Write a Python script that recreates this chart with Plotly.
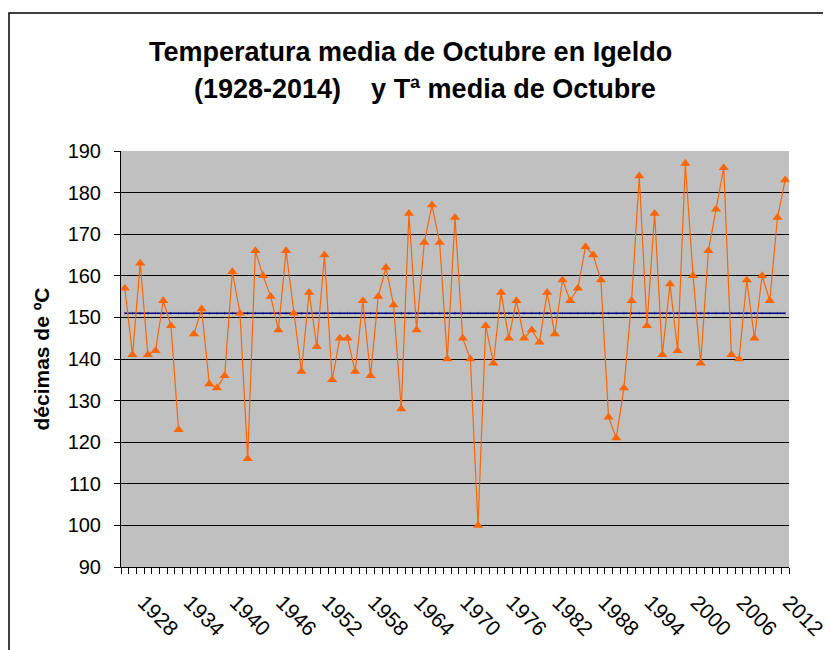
import plotly.graph_objects as go

# ---- data (décimas de ºC), October mean temperature, Igeldo ----
years = list(range(1928, 2015))
temps = [
    157, 141, 163, 141, 142, 154, 148, 123, None, 146,   # 1928-1937
    152, 134, 133, 136, 161, 151, 116, 166, 160, 155,   # 1938-1947
    147, 166, 151, 137, 156, 143, 165, 135, 145, 145,   # 1948-1957
    137, 154, 136, 155, 162, 153, 128, 175, 147, 168,   # 1958-1967
    177, 168, 140, 174, 145, 140, 100, 148, 139, 156,   # 1968-1977
    145, 154, 145, 147, 144, 156, 146, 159, 154, 157,   # 1978-1987
    167, 165, 159, 126, 121, 133, 154, 184, 148, 175,   # 1988-1997
    141, 158, 142, 187, 160, 139, 166, 176, 186, 141,   # 1998-2007
    140, 159, 145, 160, 154, 174, 183,                  # 2008-2014
]
media_value = 151
media = [media_value for _ in years]
tick_years = list(range(1928, 2013, 6))
tick_labels = [str(y) for y in tick_years]

title_line1 = "Temperatura media de Octubre en Igeldo"
title_line2 = "(1928-2014)\u00a0\u00a0\u00a0 y Tª media de Octubre"
y_title = "décimas de ºC"

FONT = "Liberation Sans, Arial, sans-serif"

# plot area on the page: x 121..789, y 151..567 (page has 8px body margin)
PL, PR, PT, PB = 121, 789, 151, 567
def px(x):
    return (x - PL) / (PR - PL)
def py(y):
    return (PB - y) / (PB - PT)

fig = go.Figure()
fig.add_trace(go.Scatter(
    x=years, y=media, mode="lines+markers",
    line=dict(color="#000080", width=1.6),
    marker=dict(symbol="line-ns-open", size=2, color="#000080", line=dict(width=0.6, color="#000080")),
    showlegend=False, hoverinfo="skip",
))
fig.add_trace(go.Scatter(
    x=years, y=temps, mode="lines+markers",
    line=dict(color="#FF6600", width=1.2),
    marker=dict(symbol="triangle-up", size=9, color="#FF6600"),
    connectgaps=False, showlegend=False,
))

fig.update_layout(
    width=823, height=642,
    margin=dict(l=113, r=42, t=143, b=83),
    paper_bgcolor="white",
    plot_bgcolor="#C0C0C0",
    font=dict(family=FONT, color="black"),
    annotations=[
        dict(text="<b>" + title_line1 + "</b>", xref="paper", yref="paper",
             x=px(410), y=py(52), xanchor="center", yanchor="middle", showarrow=False,
             font=dict(size=27, family=FONT, color="black")),
        dict(text="<b>" + title_line2 + "</b>", xref="paper", yref="paper",
             x=px(425), y=py(89), xanchor="center", yanchor="middle", showarrow=False,
             font=dict(size=27, family=FONT, color="black")),
    ],
    shapes=[dict(
        type="rect", xref="paper", yref="paper",
        x0=px(9), x1=px(845), y0=py(665), y1=py(13),
        line=dict(color="black", width=1.5), fillcolor="rgba(0,0,0,0)", layer="below",
    )],
)
fig.update_xaxes(
    range=[1927.5, 2014.5], automargin=False,
    tickmode="array", tickvals=tick_years, ticktext=tick_labels,
    tickangle=45, tickfont=dict(size=21, family=FONT),
    ticks="", ticklabelshift=19, ticklabelstandoff=14,
    minor=dict(ticks="outside", ticklen=6, tickcolor="black", tick0=1927.5, dtick=1, showgrid=False),
    showline=True, linecolor="black", linewidth=1,
    showgrid=False, zeroline=False,
)
fig.update_yaxes(
    range=[90, 190], dtick=10, tick0=90, automargin=False,
    ticks="outside", ticklen=6, tickcolor="black",
    tickfont=dict(size=20, family=FONT), ticklabelstandoff=9,
    showgrid=True, gridcolor="black", gridwidth=1,
    showline=True, linecolor="black", linewidth=1,
    zeroline=False,
    title=dict(text="<b>" + y_title + "</b>", font=dict(size=21, family=FONT), standoff=12),
)

fig.write_html("out.html")
